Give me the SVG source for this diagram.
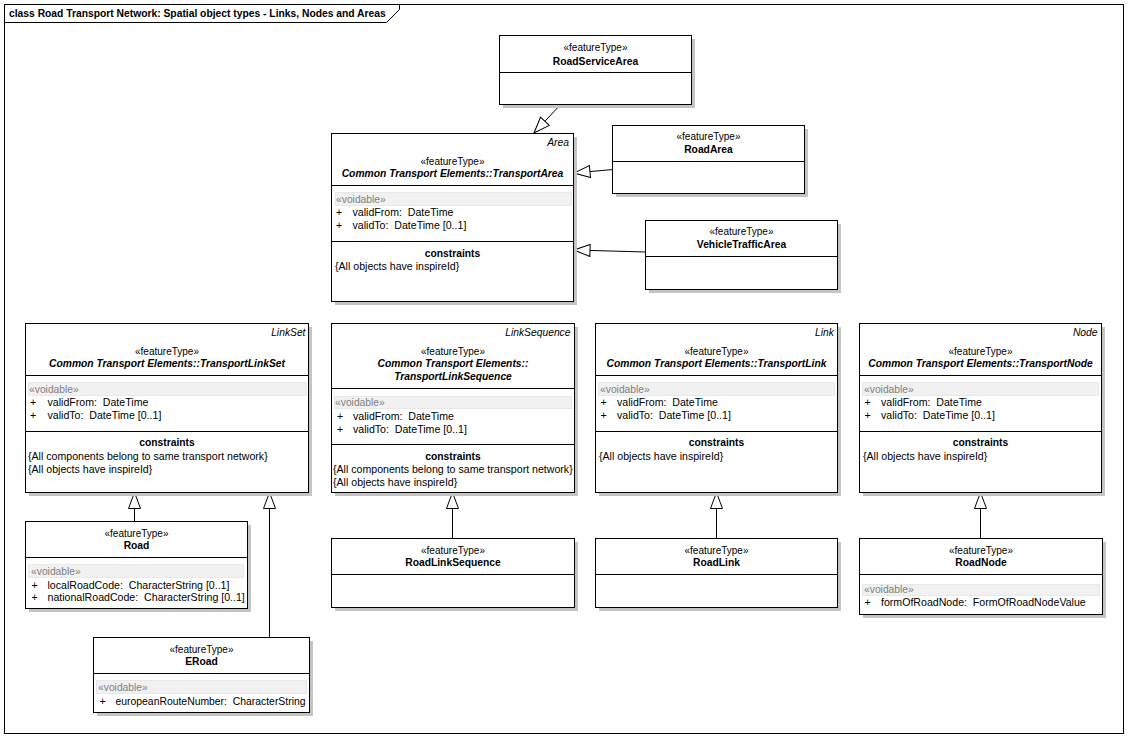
<svg xmlns="http://www.w3.org/2000/svg" width="1128" height="738" viewBox="0 0 1128 738">
<style>
text{font-family:"Liberation Sans",Arial,sans-serif;font-size:10.6px;fill:#000;white-space:pre}
.b{font-weight:bold;font-size:10.3px}
.bi{font-weight:bold;font-style:italic;font-size:10.3px}
.i{font-style:italic;font-size:10.3px}
.c{text-anchor:middle}
.e{text-anchor:end}
.st{font-size:10px}
.vd{fill:#808080;font-size:10.3px}
.box{fill:#fff;stroke:#000;stroke-width:1}
.sh{fill:#c4c4c4}
.dv{stroke:#000;stroke-width:1}
.band{fill:#f1f1f1;stroke:#e8e8e8;stroke-width:1}
.con{fill:none;stroke:#000;stroke-width:1;marker-end:url(#gen)}
</style>
<defs>
<marker id="gen" viewBox="0 0 18 14" refX="17" refY="7" markerWidth="18" markerHeight="14" markerUnits="userSpaceOnUse" orient="auto">
<path d="M1,1 L17,7 L1,13 Z" fill="#fff" stroke="#000" stroke-width="1"/>
</marker>
</defs>
<rect x="0" y="0" width="1128" height="738" fill="#fff"/>
<g id="frame">
<rect x="4.5" y="4.5" width="1119" height="729" fill="#fff" stroke="#000"/>
<path d="M4.5,22.5 L386.5,22.5 L399.5,9.5 L399.5,4.5" fill="none" stroke="#000"/>
<text class="b" x="9" y="17">class Road Transport Network: Spatial object types - Links, Nodes and Areas</text>
</g>

<g id="connectors">
<line class="con" x1="561" y1="104" x2="534" y2="133"/>
<line class="con" x1="613" y1="169.5" x2="574" y2="173"/>
<polyline class="con" points="645,252 628,251.5 574,250"/>
<line class="con" x1="134.5" y1="521" x2="134.5" y2="492.5"/>
<line class="con" x1="269.5" y1="637" x2="269.5" y2="492.5"/>
<line class="con" x1="452.5" y1="538" x2="452.5" y2="492.5"/>
<line class="con" x1="716.5" y1="538" x2="716.5" y2="492.5"/>
<line class="con" x1="980.5" y1="538" x2="980.5" y2="492.5"/>
</g>

<g id="RoadServiceArea">
<rect class="sh" x="503" y="39" width="192" height="69"/>
<rect class="box" x="499.5" y="35.5" width="192" height="69"/>
<line class="dv" x1="499.5" y1="72.5" x2="691.5" y2="72.5"/>
<text class="c st" x="595.5" y="51">«featureType»</text>
<text class="c b" x="595.5" y="64.5">RoadServiceArea</text>
</g>

<g id="TransportArea">
<rect class="sh" x="335" y="137" width="242" height="168"/>
<rect class="box" x="331.5" y="133.5" width="242" height="168"/>
<line class="dv" x1="331.5" y1="185.5" x2="573.5" y2="185.5"/>
<line class="dv" x1="331.5" y1="241.5" x2="573.5" y2="241.5"/>
<text class="i e" x="569" y="145.5">Area</text>
<text class="c st" x="452.5" y="164.5">«featureType»</text>
<text class="c bi" x="452.5" y="176.5">Common Transport Elements::TransportArea</text>
<rect class="band" x="335.5" y="192.5" width="236" height="13"/>
<text class="vd" x="336" y="202.5">«voidable»</text>
<text x="336" y="216">+</text><text x="352.5" y="216">validFrom:  DateTime</text>
<text x="336" y="229">+</text><text x="352.5" y="229">validTo:  DateTime [0..1]</text>
<text class="c b" x="452.5" y="256.5">constraints</text>
<text x="335" y="269.5">{All objects have inspireId}</text>
</g>

<g id="RoadArea">
<rect class="sh" x="616" y="129" width="192" height="68"/>
<rect class="box" x="612.5" y="125.5" width="192" height="68"/>
<line class="dv" x1="612.5" y1="161.5" x2="804.5" y2="161.5"/>
<text class="c st" x="708.5" y="140">«featureType»</text>
<text class="c b" x="708.5" y="153">RoadArea</text>
</g>

<g id="VehicleTrafficArea">
<rect class="sh" x="649" y="224" width="192" height="69"/>
<rect class="box" x="645.5" y="220.5" width="192" height="69"/>
<line class="dv" x1="645.5" y1="256.5" x2="837.5" y2="256.5"/>
<text class="c st" x="741.5" y="235">«featureType»</text>
<text class="c b" x="741.5" y="248">VehicleTrafficArea</text>
</g>

<g id="TransportLinkSet">
<rect class="sh" x="29" y="327" width="283" height="169"/>
<rect class="box" x="25.5" y="323.5" width="283" height="169"/>
<line class="dv" x1="25.5" y1="375.5" x2="308.5" y2="375.5"/>
<line class="dv" x1="25.5" y1="431.5" x2="308.5" y2="431.5"/>
<text class="i e" x="305.5" y="336">LinkSet</text>
<text class="c st" x="167" y="355">«featureType»</text>
<text class="c bi" x="167" y="367">Common Transport Elements::TransportLinkSet</text>
<rect class="band" x="28.5" y="382.5" width="278" height="13"/>
<text class="vd" x="29" y="392.5">«voidable»</text>
<text x="30" y="406">+</text><text x="47.5" y="406">validFrom:  DateTime</text>
<text x="30" y="419">+</text><text x="47.5" y="419">validTo:  DateTime [0..1]</text>
<text class="c b" x="167" y="446">constraints</text>
<text x="28" y="460">{All components belong to same transport network}</text>
<text x="28" y="472.5">{All objects have inspireId}</text>
</g>

<g id="TransportLinkSequence">
<rect class="sh" x="335" y="327" width="243" height="169"/>
<rect class="box" x="331.5" y="323.5" width="243" height="169"/>
<line class="dv" x1="331.5" y1="388.5" x2="574.5" y2="388.5"/>
<line class="dv" x1="331.5" y1="444.5" x2="574.5" y2="444.5"/>
<text class="i e" x="570.5" y="336">LinkSequence</text>
<text class="c st" x="453" y="355">«featureType»</text>
<text class="c bi" x="453" y="367">Common Transport Elements::</text>
<text class="c bi" x="453" y="379.5">TransportLinkSequence</text>
<rect class="band" x="334.5" y="396.5" width="237" height="12"/>
<text class="vd" x="335" y="406">«voidable»</text>
<text x="337" y="420">+</text><text x="353" y="420">validFrom:  DateTime</text>
<text x="337" y="433">+</text><text x="353" y="433">validTo:  DateTime [0..1]</text>
<text class="c b" x="453" y="459.5">constraints</text>
<text x="333" y="473">{All components belong to same transport network}</text>
<text x="333" y="486">{All objects have inspireId}</text>
</g>

<g id="TransportLink">
<rect class="sh" x="599" y="327" width="242" height="169"/>
<rect class="box" x="595.5" y="323.5" width="242" height="169"/>
<line class="dv" x1="595.5" y1="375.5" x2="837.5" y2="375.5"/>
<line class="dv" x1="595.5" y1="431.5" x2="837.5" y2="431.5"/>
<text class="i e" x="834" y="336">Link</text>
<text class="c st" x="716.5" y="355">«featureType»</text>
<text class="c bi" x="716.5" y="367">Common Transport Elements::TransportLink</text>
<rect class="band" x="598.5" y="382.5" width="236" height="13"/>
<text class="vd" x="600" y="392.5">«voidable»</text>
<text x="600.5" y="406">+</text><text x="617" y="406">validFrom:  DateTime</text>
<text x="600.5" y="419">+</text><text x="617" y="419">validTo:  DateTime [0..1]</text>
<text class="c b" x="716.5" y="446">constraints</text>
<text x="599" y="460">{All objects have inspireId}</text>
</g>

<g id="TransportNode">
<rect class="sh" x="863" y="327" width="242" height="169"/>
<rect class="box" x="859.5" y="323.5" width="242" height="169"/>
<line class="dv" x1="859.5" y1="375.5" x2="1101.5" y2="375.5"/>
<line class="dv" x1="859.5" y1="431.5" x2="1101.5" y2="431.5"/>
<text class="i e" x="1097.5" y="336">Node</text>
<text class="c st" x="980.5" y="355">«featureType»</text>
<text class="c bi" x="980.5" y="367">Common Transport Elements::TransportNode</text>
<rect class="band" x="862.5" y="382.5" width="236" height="13"/>
<text class="vd" x="864" y="392.5">«voidable»</text>
<text x="864.5" y="406">+</text><text x="881" y="406">validFrom:  DateTime</text>
<text x="864.5" y="419">+</text><text x="881" y="419">validTo:  DateTime [0..1]</text>
<text class="c b" x="980.5" y="446">constraints</text>
<text x="863" y="460">{All objects have inspireId}</text>
</g>

<g id="Road">
<rect class="sh" x="29" y="525" width="222" height="87"/>
<rect class="box" x="25.5" y="521.5" width="222" height="87"/>
<line class="dv" x1="25.5" y1="557.5" x2="247.5" y2="557.5"/>
<text class="c st" x="136.5" y="537">«featureType»</text>
<text class="c b" x="136.5" y="549">Road</text>
<rect class="band" x="28.5" y="564.5" width="215" height="13"/>
<text class="vd" x="31" y="574.5">«voidable»</text>
<text x="31.5" y="588.5">+</text><text x="47.5" y="588.5">localRoadCode:  CharacterString [0..1]</text>
<text x="31.5" y="601">+</text><text x="47.5" y="601">nationalRoadCode:  CharacterString [0..1]</text>
</g>

<g id="ERoad">
<rect class="sh" x="97" y="641" width="216" height="75"/>
<rect class="box" x="93.5" y="637.5" width="216" height="75"/>
<line class="dv" x1="93.5" y1="673.5" x2="309.5" y2="673.5"/>
<text class="c st" x="201.5" y="653">«featureType»</text>
<text class="c b" x="201.5" y="665">ERoad</text>
<rect class="band" x="96.5" y="680.5" width="210" height="13"/>
<text class="vd" x="98" y="690.5">«voidable»</text>
<text x="99.5" y="704.5">+</text><text x="115.5" y="704.5" textLength="190" lengthAdjust="spacingAndGlyphs">europeanRouteNumber:  CharacterString</text>
</g>

<g id="RoadLinkSequence">
<rect class="sh" x="335" y="542" width="243" height="69"/>
<rect class="box" x="331.5" y="538.5" width="243" height="69"/>
<line class="dv" x1="331.5" y1="574.5" x2="574.5" y2="574.5"/>
<text class="c st" x="453" y="554">«featureType»</text>
<text class="c b" x="453" y="566">RoadLinkSequence</text>
</g>

<g id="RoadLink">
<rect class="sh" x="599" y="542" width="242" height="69"/>
<rect class="box" x="595.5" y="538.5" width="242" height="69"/>
<line class="dv" x1="595.5" y1="574.5" x2="837.5" y2="574.5"/>
<text class="c st" x="716.5" y="554">«featureType»</text>
<text class="c b" x="716.5" y="566">RoadLink</text>
</g>

<g id="RoadNode">
<rect class="sh" x="863" y="542" width="243" height="76"/>
<rect class="box" x="859.5" y="538.5" width="243" height="76"/>
<line class="dv" x1="859.5" y1="574.5" x2="1102.5" y2="574.5"/>
<text class="c st" x="981" y="554">«featureType»</text>
<text class="c b" x="981" y="566">RoadNode</text>
<rect class="band" x="862.5" y="584.5" width="237" height="11"/>
<text class="vd" x="864" y="593">«voidable»</text>
<text x="864.5" y="605.5">+</text><text x="881" y="605.5">formOfRoadNode:  FormOfRoadNodeValue</text>
</g>
</svg>
